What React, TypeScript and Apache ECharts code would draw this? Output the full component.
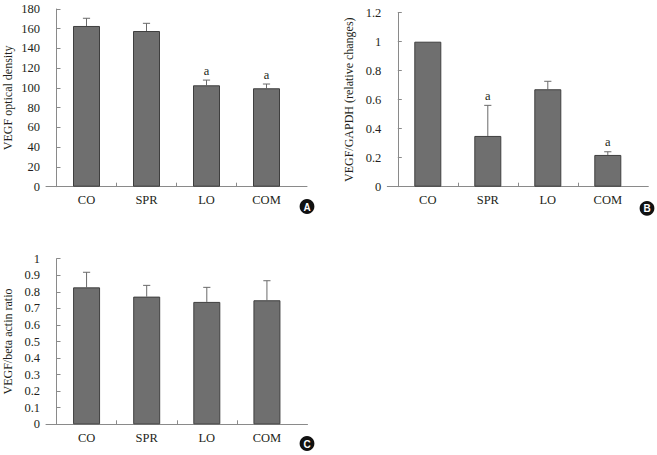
import React, { useEffect, useRef } from "react";
import * as echarts from "echarts";

const categories = ["CO", "SPR", "LO", "COM"];

// Panel A: VEGF optical density
const valuesA = [162.8, 157.7, 102.7, 99.7];
const errTopA = [170.6, 165.5, 108, 104];
const sigA = [false, false, true, true];

// Panel B: VEGF/GAPDH (relative changes)
const valuesB = [1.0, 0.35, 0.672, 0.219];
const errTopB = [1.0, 0.561, 0.727, 0.241];
const sigB = [false, true, false, true];

// Panel C: VEGF/beta actin ratio
const valuesC = [0.827, 0.771, 0.739, 0.749];
const errTopC = [0.918, 0.839, 0.827, 0.867];
const sigC = [false, false, false, false];

const yTitles = ["VEGF optical density", "VEGF/GAPDH (relative changes)", "VEGF/beta actin ratio"];
const yMax = [180, 1.2, 1];
const yInterval = [20, 0.2, 0.1];
const panelLetters = ["A", "B", "C"];

const SERIF = "Liberation Serif";
const TEXT = "#231f20";
const AXIS = "#8a8a8a";

export default function App() {
  const ref = useRef<HTMLDivElement>(null);
  useEffect(() => {
    document.body.style.margin = "0";
    const chart = echarts.init(ref.current!, null, { renderer: "svg" });
    const grids = [
      { left: 46, top: 9, width: 261, height: 177.7 },
      { left: 387.3, top: 12.7, width: 261, height: 174 },
      { left: 46, top: 258.7, width: 261.5, height: 165.6 },
    ];
    const vals = [valuesA, valuesB, valuesC];
    const errs = [errTopA, errTopB, errTopC];
    const sigs = [sigA, sigB, sigC];

    const xAxis = grids.map((_, i) => ({
      type: "value",
      gridIndex: i,
      min: -0.175,
      max: 4.175,
      splitLine: { show: false },
      axisLine: { show: true, lineStyle: { color: AXIS, width: 1 } },
      axisTick: { show: true, inside: true, length: 4, customValues: [1, 2, 3], lineStyle: { color: AXIS } },
      axisLabel: {
        customValues: [0.5, 1.5, 2.5, 3.5],
        formatter: (v: number) => categories[Math.floor(v)],
        fontFamily: SERIF,
        fontSize: 12.5,
        color: TEXT,
        margin: 7,
      },
    }));
    const yAxis = grids.map((_, i) => ({
      type: "value",
      gridIndex: i,
      min: 0,
      max: yMax[i],
      interval: yInterval[i],
      name: yTitles[i],
      nameLocation: "middle",
      nameGap: 32,
      nameTextStyle: { fontFamily: SERIF, fontSize: 12, color: TEXT },
      splitLine: { show: false },
      axisLine: { show: true, lineStyle: { color: AXIS, width: 1 } },
      axisTick: { show: true, inside: true, length: 4, lineStyle: { color: AXIS } },
      axisLabel: { fontFamily: SERIF, fontSize: 12.5, color: TEXT, margin: 6 },
    }));
    const series: any[] = [];
    grids.forEach((_, i) => {
      series.push({
        type: "bar",
        xAxisIndex: i,
        yAxisIndex: i,
        barWidth: 27,
        data: vals[i].map((v, k) => [k + 0.5, v]),
        itemStyle: { color: "#6f6f6f", borderColor: "#3f3f3f", borderWidth: 1 },
      });
      series.push({
        type: "custom",
        xAxisIndex: i,
        yAxisIndex: i,
        data: vals[i].map((v, k) => [k + 0.5, v, errs[i][k], sigs[i][k] ? 1 : 0]),
        renderItem: (params: any, api: any) => {
          const x = api.value(0);
          const top = api.coord([x, api.value(1)]);
          const cap = api.coord([x, api.value(2)]);
          const children: any[] = [];
          if (cap[1] < top[1] - 0.5) {
            children.push({
              type: "line",
              shape: { x1: top[0], y1: top[1], x2: cap[0], y2: cap[1] },
              style: { stroke: "#6a6a6a", lineWidth: 1 },
            });
            children.push({
              type: "line",
              shape: { x1: cap[0] - 3.6, y1: cap[1], x2: cap[0] + 3.6, y2: cap[1] },
              style: { stroke: "#6a6a6a", lineWidth: 1 },
            });
          }
          if (api.value(3) === 1) {
            children.push({
              type: "text",
              x: cap[0],
              y: cap[1] - 3,
              style: {
                text: "a",
                fontFamily: SERIF,
                fontSize: 12.5,
                fill: TEXT,
                align: "center",
                verticalAlign: "bottom",
              },
            });
          }
          return { type: "group", children };
        },
      });
    });

    const letterPos = [
      [307, 206.5],
      [647, 208.3],
      [307, 443.5],
    ];
    const graphic = letterPos.map((p, i) => ({
      type: "group",
      x: p[0],
      y: p[1],
      children: [
        { type: "circle", shape: { cx: 0, cy: 0, r: 7.4 }, style: { fill: "#111" } },
        {
          type: "text",
          x: 0,
          y: 0.5,
          style: {
            text: panelLetters[i],
            fill: "#fff",
            fontFamily: "Liberation Sans",
            fontWeight: "bold",
            fontSize: 10,
            align: "center",
            verticalAlign: "middle",
          },
        },
      ],
    }));

    chart.setOption({
      animation: false,
      backgroundColor: "#fff",
      grid: grids,
      xAxis,
      yAxis,
      series,
      graphic,
    });
    return () => chart.dispose();
  }, []);
  return <div ref={ref} style={{ width: 657, height: 455 }} />;
}
